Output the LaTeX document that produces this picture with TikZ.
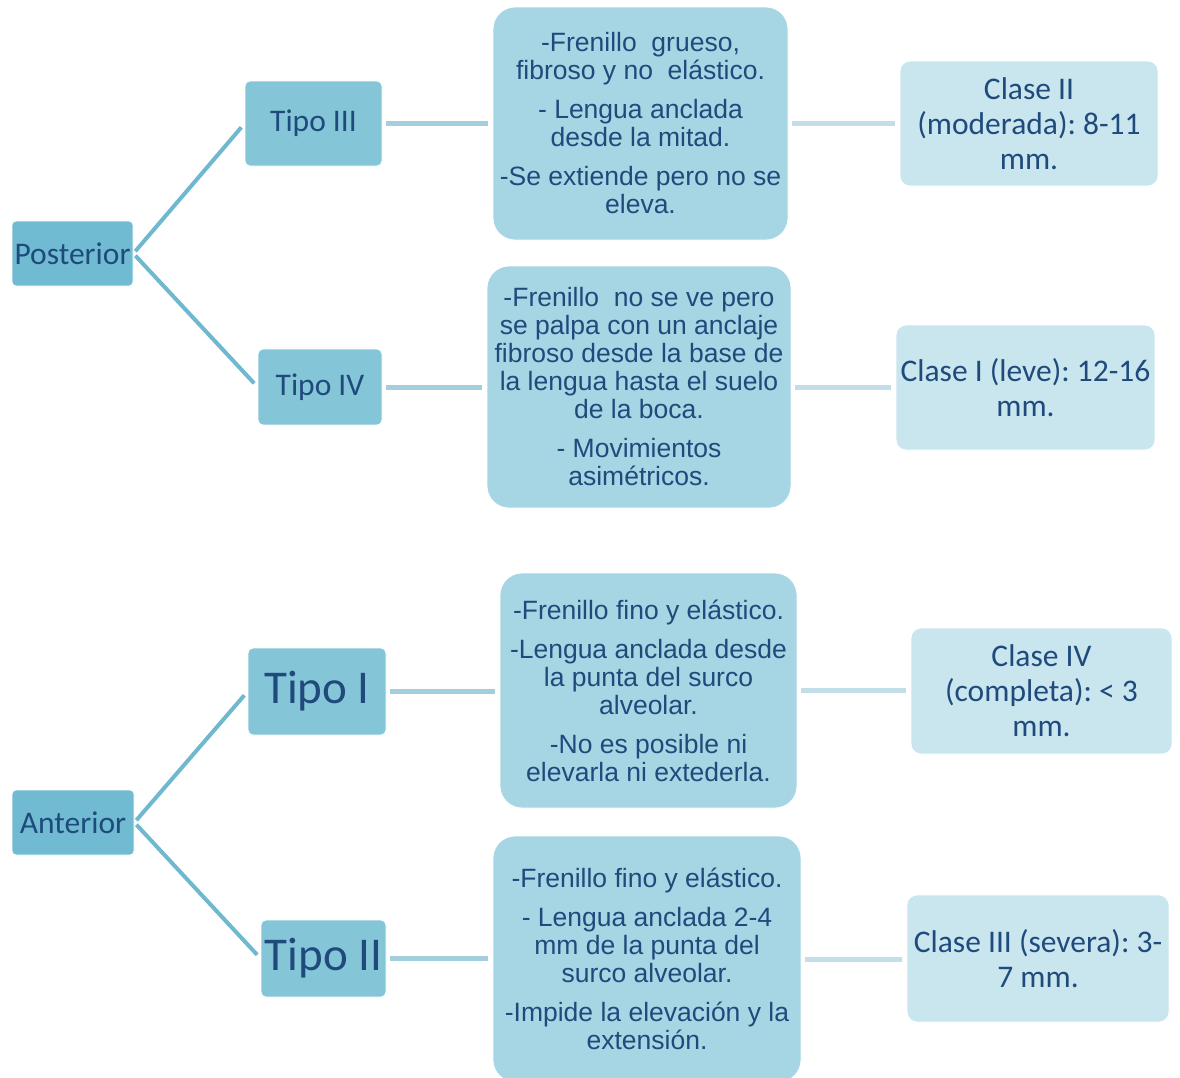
\documentclass[tikz,border=0pt]{standalone}
\usepackage{fontspec}
\newfontfamily\calib{Carlito}
\newfontfamily\arialf{Liberation Sans}
\frenchspacing
\definecolor{txt}{HTML}{1F4A7C}
\definecolor{rootc}{HTML}{70BBD2}
\definecolor{tipoc}{HTML}{84C5D7}
\definecolor{midc}{HTML}{A6D5E3}
\definecolor{clsc}{HTML}{C9E5EE}
\definecolor{diagc}{HTML}{6FB8CF}
\definecolor{hlinea}{HTML}{A3CEDD}
\definecolor{hlineb}{HTML}{C2DFE9}
\tikzset{
  box/.style={draw=white, line width=0.8pt, inner sep=0pt, align=center, text=txt},
  rootbox/.style={box, fill=rootc, rounded corners=4pt, font=\calib\fontsize{31.5}{35}\selectfont},
  tipobox/.style={box, fill=tipoc, rounded corners=5pt, font=\calib\fontsize{31.5}{35}\selectfont},
  bigtipo/.style={box, fill=tipoc, rounded corners=5pt, font=\calib\fontsize{47}{52}\selectfont},
  midbox/.style={box, fill=midc, rounded corners=22pt, font=\arialf\fontsize{26.5}{28}\selectfont},
  clsbox/.style={box, fill=clsc, rounded corners=10pt, font=\calib\fontsize{31.5}{35}\selectfont},
  diag/.style={draw=diagc, line width=4pt, shorten <=3pt, shorten >=5pt},
  linka/.style={draw=hlinea, line width=5pt, shorten <=4pt, shorten >=5pt},
  linkb/.style={draw=hlineb, line width=5pt, shorten <=4pt, shorten >=5pt}
}
\begin{document}
\begin{tikzpicture}[x=1pt,y=-1pt]
\useasboundingbox (0,0) rectangle (1180,1077);

% posterior branch
\node[rootbox, minimum width=121pt, minimum height=65pt] (post) at (72.5,253.5) {Posterior};
\node[tipobox, minimum width=137pt, minimum height=85pt] (t3) at (313.5,123.5) {Tipo III};
\node[tipobox, minimum width=124pt, minimum height=76pt] (t4) at (320,387) {Tipo IV};
\node[midbox, minimum width=295pt, minimum height=233pt] (m1) at (640.5,123.5)
  {-Frenillo\ \ grueso,\\fibroso y no\ \ elástico.\\[11pt]- Lengua anclada\\desde la mitad.\\[11pt]-Se extiende pero no se\\eleva.};
\node[midbox, minimum width=304pt, minimum height=242pt] (m2) at (639,387)
  {-Frenillo\ \ no se ve pero\\se palpa con un anclaje\\fibroso desde la base de\\la lengua hasta el suelo\\de la boca.\\[11pt]- Movimientos\\asimétricos.};
\node[clsbox, minimum width=258pt, minimum height=125pt] (c2) at (1029,123.5) {Clase II\\(moderada): 8-11\\mm.};
\node[clsbox, minimum width=259pt, minimum height=125pt] (c1) at (1025.5,387.5) {Clase I (leve): 12-16\\mm.};

% anterior branch
\node[rootbox, minimum width=122pt, minimum height=65pt] (ant) at (73,822.5) {Anterior};
\node[bigtipo, minimum width=138pt, minimum height=87pt] (t1) at (317,691.5) {Tipo I};
\node[bigtipo, minimum width=125pt, minimum height=77pt] (t2) at (323.5,958.5) {Tipo II};
\node[midbox, minimum width=297pt, minimum height=235pt] (m3) at (648.5,690.5)
  {-Frenillo fino y elástico.\\[11pt]-Lengua anclada desde\\la punta del surco\\alveolar.\\[11pt]-No es posible ni\\elevarla ni extederla.};
\node[midbox, minimum width=308pt, minimum height=246pt] (m4) at (647,959)
  {-Frenillo fino y elástico.\\[11pt]- Lengua anclada 2-4\\mm de la punta del\\surco alveolar.\\[11pt]-Impide la elevación y la\\extensión.};
\node[clsbox, minimum width=261pt, minimum height=126pt] (c4) at (1041.5,691) {Clase IV\\(completa): < 3\\mm.};
\node[clsbox, minimum width=262pt, minimum height=127pt] (c3) at (1038,958.5) {Clase III (severa): 3-\\7 mm.};

% connectors
\draw[diag] (post.east) -- (t3.west);
\draw[diag] (post.east) -- (t4.west);
\draw[diag] (ant.east) -- (t1.west);
\draw[diag] (ant.east) -- (t2.west);

\draw[linka] (t3.east) -- (t3.east -| m1.west);
\draw[linka] (t4.east) -- (t4.east -| m2.west);
\draw[linka] (t1.east) -- (t1.east -| m3.west);
\draw[linka] (t2.east) -- (t2.east -| m4.west);

\draw[linkb] (m1.east) -- (m1.east -| c2.west);
\draw[linkb] (m2.east) -- (m2.east -| c1.west);
\draw[linkb] (m3.east) -- (m3.east -| c4.west);
\draw[linkb] (m4.east) -- (m4.east -| c3.west);
\end{tikzpicture}
\end{document}
